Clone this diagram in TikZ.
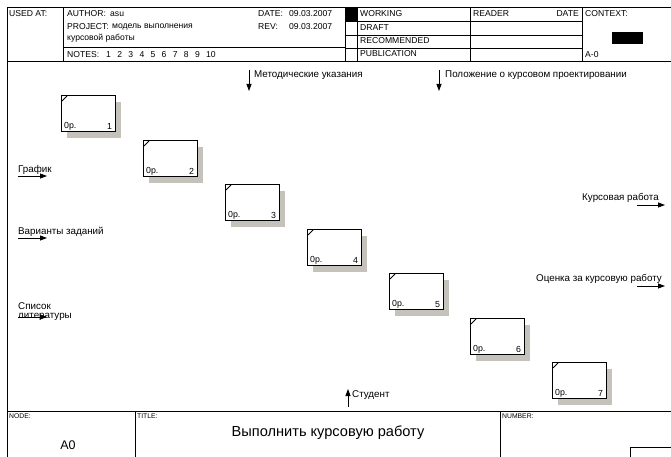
\documentclass[tikz,border=0pt]{standalone}
\usepackage{fontspec}
\setmainfont{Liberation Sans}
\usetikzlibrary{arrows.meta,calc}

\definecolor{shadowgray}{RGB}{196,194,186}

\begin{document}
\begin{tikzpicture}[x=1pt,y=-1pt,
  frameline/.style={line width=0.8pt, draw=black},
  hdr/.style={font=\fontsize{8.6}{9}\selectfont, anchor=west, inner sep=0pt},
  small/.style={font=\fontsize{6.8}{7}\selectfont, anchor=west, inner sep=0pt},
  lbl/.style={font=\fontsize{9.8}{11}\selectfont, inner sep=0pt},
  actbox/.style={draw, line width=1.1pt, fill=white, minimum width=54pt,
                 minimum height=36pt, anchor=north west, inner sep=0pt},
  boxtxt/.style={font=\fontsize{8.8}{9}\selectfont, inner sep=0pt},
  flow/.style={-{Triangle[length=7pt,width=5pt]}, line width=0.8pt}]

\useasboundingbox (0,0) rectangle (671,457);
\fill[white] (0,0) rectangle (671,457);

% ---------- outer frame ----------
\draw[frameline] (7,457) -- (7,7) -- (671,7);
\draw[frameline] (7,61) -- (671,61);
\draw[frameline] (7,411) -- (671,411);

% ---------- header block ----------
\draw[frameline] (63,7) -- (63,61);
\draw[frameline] (63,47) -- (345,47);
\draw[frameline] (345,7) -- (345,61);
\draw[frameline] (357,7) -- (357,61);
\draw[frameline] (470,7) -- (470,61);
\draw[frameline] (582,7) -- (582,61);
\foreach \yy in {21,35,48} \draw[frameline] (345,\yy) -- (582,\yy);
\fill[black] (345,7) rectangle (357,21);
\fill[black] (612,32) rectangle (643,44);

\node[hdr] (usedat) at (9,14) {USED AT:};
\node[hdr] (author) at (67,14) {AUTHOR:};
\node[hdr] (authorval) at (110,14) {asu};
\node[hdr] (project) at (67,27) {PROJECT:};
\node[hdr] (projectval) at (112,27) {модель выполнения};
\node[hdr] (project2) at (67,38) {курсовой работы};
\node[hdr] (notes) at (67,55) {NOTES:};
\foreach \n [count=\k from 0] in {1,2,3,4,5,6,7,8,9,10}
  \node[hdr] (note\n) at (106+11.1*\k,55) {\n};
\node[hdr] (date) at (258,14) {DATE:};
\node[hdr] (dateval) at (289,14) {09.03.2007};
\node[hdr] (rev) at (258,27) {REV:};
\node[hdr] (revval) at (289,27) {09.03.2007};
\node[hdr] (working) at (360,14) {WORKING};
\node[hdr] (draft) at (360,28) {DRAFT};
\node[hdr] (recom) at (360,41) {RECOMMENDED};
\node[hdr] (publ) at (360,54) {PUBLICATION};
\node[hdr] (reader) at (473,14) {READER};
\node[hdr, anchor=east] (rdate) at (579,14) {DATE};
\node[hdr] (context) at (585,14) {CONTEXT:};
\node[hdr] (ctxnode) at (585,55) {A-0};

% ---------- footer block ----------
\draw[frameline] (135,411) -- (135,457);
\draw[frameline] (500,411) -- (500,457);
\draw[frameline] (671,447) -- (630,447) -- (630,457);
\node[small] (nodelbl) at (9,416) {NODE:};
\node[font=\fontsize{12.5}{13}\selectfont, inner sep=0pt] (nodeval) at (68,445) {A0};
\node[small] (titlelbl) at (137,416) {TITLE:};
\node[font=\fontsize{14.6}{15}\selectfont, inner sep=0pt] (title) at (328,433) {Выполнить  курсовую работу};
\node[small] (numlbl) at (502,416) {NUMBER:};

% ---------- activity boxes with shadows ----------
\foreach \i in {1,...,7} {
  \pgfmathsetmacro\bx{round(61+81.9*(\i-1))}
  \pgfmathsetmacro\by{round(95+44.5*(\i-1))}
  \fill[shadowgray] (\bx+6,\by+7) rectangle +(54,36);
  \node[actbox] (b\i) at (\bx,\by) {};
  \draw[line width=0.8pt] ([shift={(1,6)}]b\i.north west) -- ([shift={(6,1)}]b\i.north west);
  \node[boxtxt, anchor=south west] at ([shift={(3,-2)}]b\i.south west) {0p.};
  \node[boxtxt, anchor=south east] at ([shift={(-4,-2)}]b\i.south east) {\i};
}

% ---------- controls (top) ----------
\coordinate (c1s) at (249,70);
\coordinate (c1e) at (249,91);
\draw[flow] (c1s) -- (c1e);
\node[lbl, anchor=west] (c1) at (254,75) {Методические указания};

\coordinate (c2s) at (439,70);
\coordinate (c2e) at (439,91);
\draw[flow] (c2s) -- (c2e);
\node[lbl, anchor=west] (c2) at (445,75) {Положение о курсовом проектировании};

% ---------- inputs (left) ----------
\coordinate (i1s) at (18,176);
\coordinate (i1e) at (47,176);
\draw[flow] (i1s) -- (i1e);
\node[lbl, anchor=west] (i1) at (18,170) {График};

\coordinate (i2s) at (18,238);
\coordinate (i2e) at (47,238);
\draw[flow] (i2s) -- (i2e);
\node[lbl, anchor=west] (i2) at (18,232) {Варианты заданий};

\coordinate (i3s) at (18,317);
\coordinate (i3e) at (47,317);
\node[lbl, anchor=west] (i3a) at (18,306) {Список};
\node[lbl, anchor=west] (i3b) at (18,317) {литературы};
\draw[flow] (i3s) -- (i3e);

% ---------- outputs (right) ----------
\coordinate (o1s) at (637,205);
\coordinate (o1e) at (665,205);
\draw[flow] (o1s) -- (o1e);
\node[lbl, anchor=east] (o1) at (659,198) {Курсовая работа};

\coordinate (o2s) at (637,286);
\coordinate (o2e) at (665,286);
\draw[flow] (o2s) -- (o2e);
\node[lbl, anchor=east] (o2) at (662,279) {Оценка за курсовую работу};

% ---------- mechanism (bottom) ----------
\coordinate (m1s) at (348,407);
\coordinate (m1e) at (348,389);
\draw[flow] (m1s) -- (m1e);
\node[lbl, anchor=west] (m1) at (352,395) {Студент};

\end{tikzpicture}
\end{document}
